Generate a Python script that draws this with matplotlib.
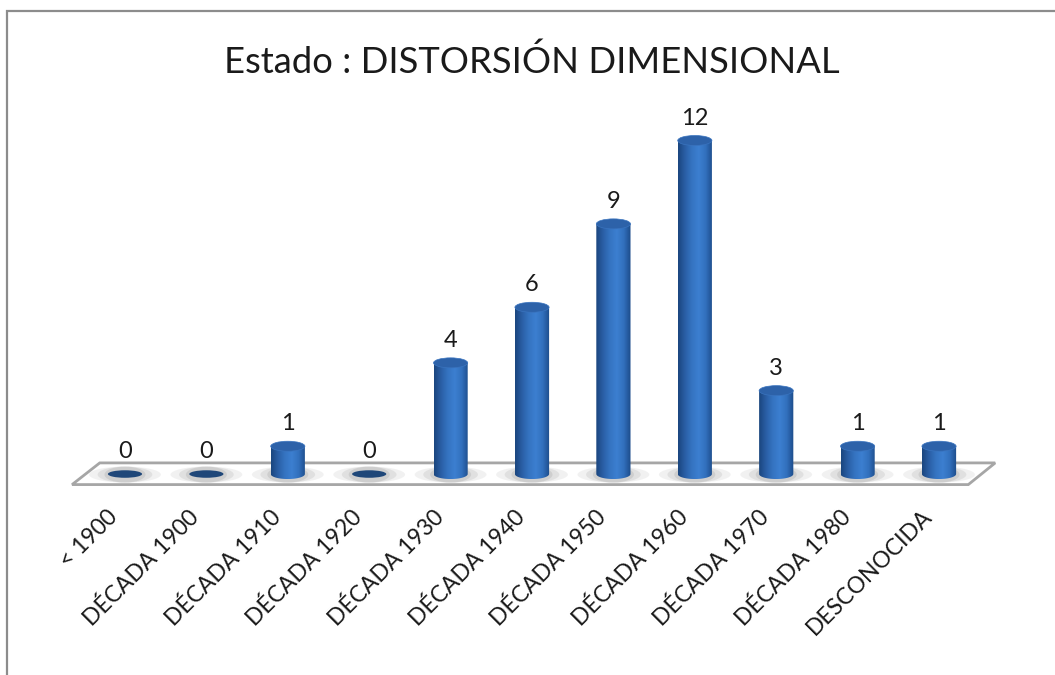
import numpy as np
import matplotlib
matplotlib.use('Agg')
import matplotlib.pyplot as plt
import matplotlib.transforms as mtransforms
from matplotlib.patches import Ellipse, Polygon, Rectangle, PathPatch
from matplotlib.path import Path
from matplotlib.colors import LinearSegmentedColormap

# data
categories = ['< 1900', 'DÉCADA 1900', 'DÉCADA 1910', 'DÉCADA 1920',
              'DÉCADA 1930', 'DÉCADA 1940', 'DÉCADA 1950', 'DÉCADA 1960',
              'DÉCADA 1970', 'DÉCADA 1980', 'DESCONOCIDA']
values = [0, 0, 1, 0, 4, 6, 9, 12, 3, 1, 1]
title = 'Estado : DISTORSIÓN DIMENSIONAL'

plt.rcParams['font.family'] = ['Lato', 'DejaVu Sans']

W_PX, H_PX = 1055, 675
fig = plt.figure(figsize=(W_PX / 100, H_PX / 100), dpi=100)

# axes placed so that category spacing ~81 px and 1 unit ~28 px
ax = fig.add_axes([68 / W_PX, 184.3 / H_PX, 928 / W_PX, 378 / H_PX])
ax.set_facecolor('none')

bar_w = 0.42
ell_h = 0.36

# cylinder shading across the width
cmap = LinearSegmentedColormap.from_list(
    'cyl', ['#1b467f', '#2a5fa6', '#3574c2', '#3c7fd0', '#3270bd', '#1d4c8a'])
grad = cmap(np.linspace(0, 1, 64))[None, :, :]

# floor
floor = Polygon([(-0.31, 0.40), (10.69, 0.40), (10.36, -0.38), (-0.65, -0.38)],
                closed=True, facecolor='white', edgecolor='#a6a6a6', lw=2,
                zorder=1)
ax.add_patch(floor)

for i, v in enumerate(values):
    # soft shadow on the floor
    for k, a in zip([2.1, 1.6, 1.2], [0.10, 0.14, 0.18]):
        ax.add_patch(Ellipse((i, -0.02), bar_w * k, ell_h * 1.6,
                             facecolor='#7f7f7f', edgecolor='none',
                             alpha=a, zorder=2))
    if v == 0:
        ax.add_patch(Ellipse((i, 0), bar_w, ell_h * 0.75,
                             facecolor='#1f4779', edgecolor='none', zorder=4))
    else:
        x0, x1 = i - bar_w / 2, i + bar_w / 2
        im = ax.imshow(grad, extent=[x0, x1, -ell_h / 2, v], aspect='auto',
                       interpolation='bilinear', zorder=3)
        t = np.linspace(np.pi, 2 * np.pi, 40)
        verts = [(x0, v)] + list(zip(i + bar_w / 2 * np.cos(t),
                                     ell_h / 2 * np.sin(t))) + [(x1, v), (x0, v)]
        clip = PathPatch(Path(verts), transform=ax.transData)
        im.set_clip_path(clip)
        ax.add_patch(Ellipse((i, v), bar_w, ell_h, facecolor='#2d62a9',
                             edgecolor='#3a74bf', lw=0.5, zorder=4))
    ax.annotate(str(v), (i, v), xytext=(0, 11.5), textcoords='offset points',
                ha='center', va='baseline', fontsize=17, color='#1a1a1a',
                annotation_clip=False)

ax.set_xlim(-0.7, 10.7)
ax.set_ylim(-0.6, 13)
ax.set_xticks(range(len(categories)))
ax.set_xticklabels(categories, rotation=45, ha='right', va='top',
                   rotation_mode='anchor', fontsize=16.5, color='#1a1a1a')
ax.tick_params(axis='x', length=0, pad=11)
ax.set_yticks([])
for s in ax.spines.values():
    s.set_visible(False)
shift = mtransforms.ScaledTranslation(-18 / 100, 0, fig.dpi_scale_trans)
for lab in ax.get_xticklabels():
    lab.set_transform(lab.get_transform() + shift)

fig.text(532 / W_PX, 1 - 62 / H_PX, title, ha='center', va='center',
         fontsize=26.2, color='#1a1a1a')

# chart frame (left and top edges visible)
fig.add_artist(Rectangle((7 / W_PX, -1), 2, 2 - 11 / H_PX,
                         transform=fig.transFigure, fill=False,
                         edgecolor='#8c8c8c', lw=1.6))

fig.savefig('out.png', dpi=100, facecolor='white')
